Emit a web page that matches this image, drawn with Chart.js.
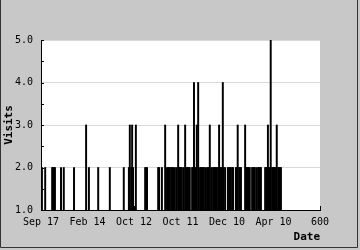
<!DOCTYPE html>
<html>
<head>
<meta charset="utf-8">
<script src="https://cdn.jsdelivr.net/npm/chart.js@4"></script>
<style>
  html, body { margin: 0; padding: 0; background: #c8c8c8; }
  #wrap { width: 360px; height: 250px; }
</style>
</head>
<body>
<div id="wrap"><canvas id="chartVisits" width="360" height="250"></canvas></div>
<script>
// day index (0..600) and visits that day
const days = [
  0, 2, 9, 24, 26, 28, 30, 43, 49, 71, 97, 103, 123, 148, 178, 189, 191, 194, 196, 198, 204,
  224, 226, 228, 252, 254, 260, 267, 271, 273, 275, 277, 280, 282, 284, 288, 292, 295, 297, 299, 301, 303,
  307, 310, 312, 314, 316, 318, 320, 325, 327, 329, 331, 333, 335, 338, 342, 344, 346, 348, 350, 353,
  357, 359, 361, 363, 366, 370, 372, 374, 376, 378, 381, 383, 385, 387, 389, 391, 393, 396,
  402, 404, 406, 408, 411, 413, 419, 421, 423, 426, 428, 430, 439, 441, 443, 445, 447, 449,
  454, 456, 458, 460, 464, 467, 469, 471, 473, 482, 484, 486, 488, 490, 492, 494, 497, 499,
  501, 503, 505, 507, 510, 512, 514, 516
];
const visits = [
  2, 2, 2, 2, 2, 2, 2, 2, 2, 2, 3, 2, 2, 2, 2, 2, 3, 2, 3, 2, 3,
  2, 2, 2, 2, 2, 2, 3, 2, 2, 2, 2, 2, 2, 2, 2, 2, 3, 2, 2, 2, 2,
  2, 3, 2, 2, 2, 2, 2, 2, 2, 4, 2, 2, 3, 4, 2, 2, 2, 2, 2, 2,
  2, 2, 2, 3, 2, 2, 2, 2, 2, 2, 2, 3, 2, 2, 2, 4, 2, 2,
  2, 2, 2, 2, 2, 2, 2, 2, 3, 2, 2, 2, 3, 2, 2, 2, 2, 2,
  2, 2, 2, 2, 2, 2, 2, 2, 2, 2, 2, 2, 3, 2, 2, 5, 2, 2,
  2, 2, 2, 3, 2, 2, 2, 2
];
const xTickLabels = ['Sep 17', 'Feb 14', 'Oct 12', 'Oct 11', 'Dec 10', 'Apr 10', '600'];
const yTicks = [1, 1.5, 2, 2.5, 3, 3.5, 4, 4.5, 5];

const FONT = "'DejaVu Sans Mono', 'Liberation Mono', monospace";

const framePlugin = {
  id: 'frame',
  beforeDraw(chart) {
    const { ctx, chartArea: a } = chart;
    ctx.save();
    ctx.fillStyle = '#c8c8c8';
    ctx.fillRect(0, 0, chart.width, chart.height);
    // left, right and bottom edge lines of the frame
    ctx.strokeStyle = '#333';
    ctx.lineWidth = 1;
    ctx.beginPath();
    ctx.moveTo(0.5, 0);
    ctx.lineTo(0.5, 247.5);
    ctx.lineTo(357.5, 247.5);
    ctx.lineTo(357.5, 0);
    ctx.stroke();
    ctx.fillStyle = '#fff';
    ctx.fillRect(a.left, a.top, a.right - a.left, a.bottom - a.top);
    ctx.restore();
  },
  afterDraw(chart) {
    const { ctx, chartArea: a, scales } = chart;
    ctx.save();
    ctx.strokeStyle = '#000';
    ctx.lineWidth = 1;
    ctx.beginPath();
    yTicks.forEach(v => {
      const y = Math.round(scales.y.getPixelForValue(v)) + 0.5;
      ctx.moveTo(a.left, y);
      ctx.lineTo(a.left + 3, y);
    });
    xTickLabels.forEach((_, i) => {
      const x = Math.round(scales.x.getPixelForValue(i * 100)) + 0.5;
      ctx.moveTo(x, a.bottom);
      ctx.lineTo(x, a.bottom - 4);
    });
    ctx.stroke();

    ctx.fillStyle = '#000';
    ctx.font = 'bold 11px ' + FONT;
    ctx.textAlign = 'right';
    ctx.textBaseline = 'middle';
    ctx.fillText('Date', a.right, 237);
    ctx.translate(9, (a.top + a.bottom) / 2);
    ctx.rotate(-Math.PI / 2);
    ctx.textAlign = 'center';
    ctx.fillText('Visits', 0, 0);
    ctx.restore();
  }
};

new Chart(document.getElementById('chartVisits'), {
  type: 'bar',
  data: {
    datasets: [{
      data: days.map((d, i) => ({ x: d, y: visits[i] })),
      backgroundColor: '#000',
      borderWidth: 0,
      barThickness: 1.3
    }]
  },
  options: {
    responsive: false,
    animation: false,
    layout: { padding: { top: 40, right: 40, left: 0, bottom: 0 } },
    plugins: { legend: { display: false }, tooltip: { enabled: false } },
    scales: {
      x: {
        type: 'linear',
        min: 0,
        max: 600,
        offset: false,
        afterFit: s => { s.height = 40; },
        grid: { display: false, drawTicks: false },
        border: { display: true, color: '#000', width: 1 },
        ticks: {
          stepSize: 100,
          autoSkip: false,
          maxRotation: 0,
          padding: 6,
          color: '#000',
          font: { family: FONT, size: 10 },
          callback: v => xTickLabels[Math.round(v / 100)]
        }
      },
      y: {
        min: 1,
        max: 5,
        afterFit: s => { s.width = 41; },
        grid: {
          drawTicks: false,
          color: c => (c.tick && c.tick.value % 1 === 0 && c.tick.value > 1) ? '#d9d9d9' : 'rgba(0,0,0,0)'
        },
        border: { display: true, color: '#000', width: 1 },
        ticks: {
          stepSize: 0.5,
          autoSkip: false,
          padding: 8,
          color: '#000',
          font: { family: FONT, size: 10 },
          callback: v => (v % 1 === 0 ? v.toFixed(1) : '')
        }
      }
    }
  },
  plugins: [framePlugin]
});
</script>
</body>
</html>
